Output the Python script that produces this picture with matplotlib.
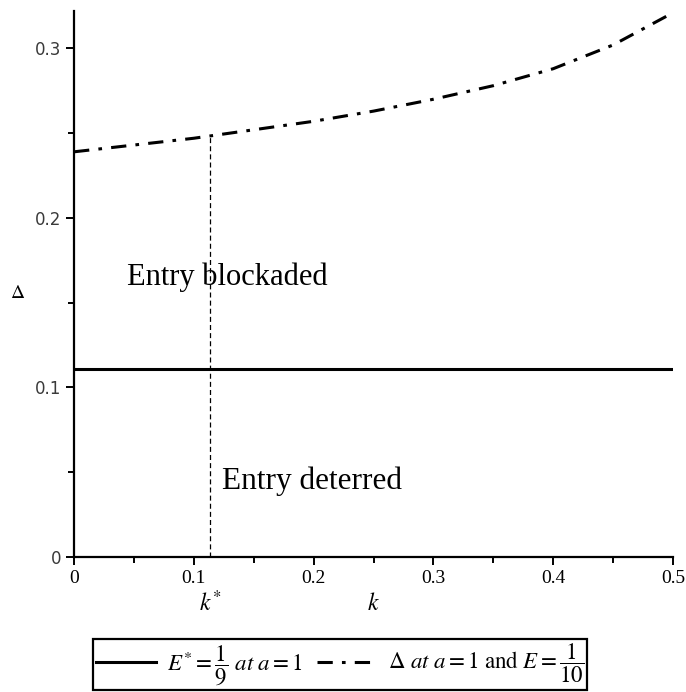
import numpy as np
import matplotlib
matplotlib.use("Agg")
import matplotlib.pyplot as plt
from matplotlib.transforms import blended_transform_factory

plt.rcParams['mathtext.fontset'] = 'stix'

# valores
k = [0.0, 0.05, 0.1, 0.15, 0.2, 0.25, 0.3, 0.35, 0.4, 0.45, 0.5]
delta = [0.239, 0.243, 0.247, 0.252, 0.257, 0.263, 0.270, 0.278, 0.288, 0.302, 0.321]
e_star = 1 / 9
k_star = 0.1135
delta_k_star = 0.248

xticks = [0, 0.1, 0.2, 0.3, 0.4, 0.5]
xtick_labels = ['0', '0.1', '0.2', '0.3', '0.4', '0.5']
yticks = [0, 0.1, 0.2, 0.3]
ytick_labels = ['0', '0.1', '0.2', '0.3']

fig = plt.figure(figsize=(6.86, 6.92), dpi=100)
ax = fig.add_axes([0.108, 0.195, 0.873, 0.789])

l1, = ax.plot([0, 0.5], [e_star, e_star], color='black', lw=2.2)
l2, = ax.plot(k, delta, color='black', lw=2.2, dashes=(5, 3, 1.2, 3))
ax.plot([k_star, k_star], [0, delta_k_star], color='black', lw=0.9, dashes=(4, 2.5))

ax.set_xlim(0, 0.5)
ax.set_ylim(0, 0.322)
for s in ['top', 'right']:
    ax.spines[s].set_visible(False)
for s in ['left', 'bottom']:
    ax.spines[s].set_linewidth(1.6)

ax.set_xticks(xticks)
ax.set_xticklabels(xtick_labels, family='Liberation Serif', fontsize=14)
ax.set_xticks([0.05, 0.15, 0.25, 0.35, 0.45], minor=True)
ax.set_yticks(yticks)
ax.set_yticklabels(ytick_labels, family='DejaVu Sans', fontsize=12, color='#3a3a3a')
ax.set_yticks([0.05, 0.15, 0.25], minor=True)
ax.tick_params(which='major', length=6, width=1.4, direction='out')
ax.tick_params(which='minor', length=4, width=1.4, direction='out')

ax.text(0.044, 0.165, 'Entry blockaded', family='Liberation Serif', fontsize=22, va='center')
ax.text(0.1235, 0.045, 'Entry deterred', family='Liberation Serif', fontsize=22.5, va='center')

tr = blended_transform_factory(ax.transData, ax.transAxes)
ax.text(k_star, -0.085, r'$k^{*}$', transform=tr, ha='center', va='center', fontsize=17)
ax.text(0.25, -0.085, r'$k$', transform=tr, ha='center', va='center', fontsize=17)
ax.text(-0.095, 0.485, r'$\Delta$', transform=ax.transAxes, ha='center', va='center', fontsize=14)

leg = fig.legend([l1, l2],
                 [r'$E^{*}=\dfrac{1}{9}\ at\ a=1$', r'$\Delta\ at\ a=1$ and $E=\dfrac{1}{10}$'],
                 loc='lower center', bbox_to_anchor=(0.496, -0.014), ncol=2,
                 prop={'family': 'STIXGeneral', 'size': 16.5}, handlelength=2.6,
                 columnspacing=0.6, handletextpad=0.5, borderpad=0.15,
                 fancybox=False, edgecolor='black', framealpha=1)
leg.get_frame().set_linewidth(1.6)

fig.savefig('out.png', dpi=100)
